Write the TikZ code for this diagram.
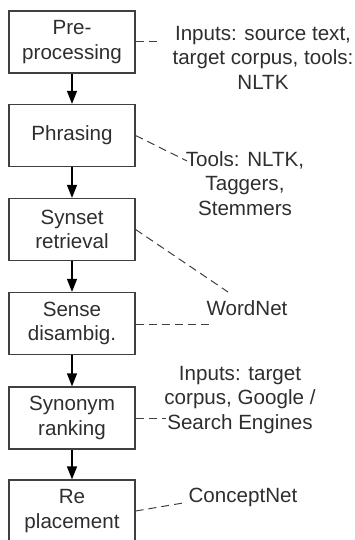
\documentclass[tikz,border=0pt]{standalone}
\usepackage{fontspec}
\setmainfont{Liberation Sans}
\usetikzlibrary{arrows.meta}
\definecolor{boxgray}{HTML}{404040}
\definecolor{txtgray}{HTML}{2E2E2E}
\begin{document}
\begin{tikzpicture}[x=1pt, y=-1pt,
  stage/.style={draw=boxgray, line width=1.2pt, minimum width=126pt, minimum height=62pt,
    inner sep=0pt, align=center, text=txtgray, font=\fontsize{20.6}{24.5}\selectfont},
  note/.style={align=center, inner sep=0pt, text=txtgray, font=\fontsize{20.6}{24.5}\selectfont},
  flow/.style={-{Triangle[length=13pt,width=10pt]}, line width=1.2pt},
  link/.style={draw=boxgray, line width=1pt, dash pattern=on 8pt off 5pt}]
\useasboundingbox (0,0) rectangle (355,540);
\node[stage] (pre) at (72,42) {Pre-\\processing};
\node[stage] (phr) at (72,135.5) {Phrasing};
\node[stage] (syn) at (72,229.5) {Synset\\retrieval};
\node[stage] (dis) at (72,323.5) {Sense\\disambig.};
\node[stage] (rnk) at (72,418) {Synonym\\ranking};
\node[stage] (rep) at (72,511) {Re\\placement};
\draw[flow] (pre) -- (phr);
\draw[flow] (phr) -- (syn);
\draw[flow] (syn) -- (dis);
\draw[flow] (dis) -- (rnk);
\draw[flow] (rnk) -- (rep);

\node[note] (inp1) at (263,57.5) {Inputs: source text,\\target corpus, tools:\\NLTK};
\node[note] (tools) at (245,183.5) {Tools: NLTK,\\Taggers,\\Stemmers};
\node[note] (wn) at (247,308) {WordNet};
\node[note] (inp2) at (240,400) {Inputs: target\\corpus, Google /\\Search Engines};
\node[note] (cn) at (243,497) {ConceptNet};
\coordinate (e1) at (160,42);
\coordinate (e2) at (187,161);
\coordinate (e3) at (228,292);
\coordinate (e4) at (213,324);
\coordinate (e5) at (166,418);
\coordinate (e6) at (183,503);
\draw[link] (pre.east |- e1) -- (e1);
\draw[link] (phr.east) -- (e2);
\draw[link] (syn.east) -- (e3);
\draw[link] (dis.east |- e4) -- (e4);
\draw[link] (rnk.east |- e5) -- (e5);
\draw[link] (rep.east) -- (e6);
\end{tikzpicture}
\end{document}
